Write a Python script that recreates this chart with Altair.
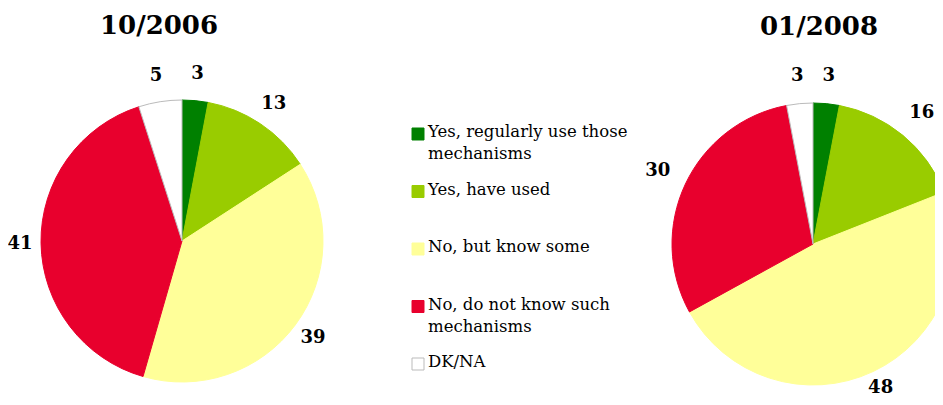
import altair as alt
import pandas as pd

categories = [
    "Yes, regularly use those mechanisms",
    "Yes, have used",
    "No, but know some",
    "No, do not know such mechanisms",
    "DK/NA",
]
legend_lines = [
    "Yes, regularly use those|mechanisms",
    "Yes, have used",
    "No, but know some",
    "No, do not know such|mechanisms",
    "DK/NA",
]
fill_colors = ["#008000", "#99CC00", "#FFFF99", "#E8002D", "#FFFFFF"]
stroke_colors = ["#008000", "#99CC00", "#FFFF99", "#E8002D", "#BBBBBB"]

surveys = ["10/2006", "01/2008"]
values_2006 = [3, 13, 39, 41, 5]
values_2008 = [3, 16, 48, 30, 3]

rows = []
for s, vals in zip(surveys, [values_2006, values_2008]):
    for i, (c, v) in enumerate(zip(categories, vals)):
        rows.append({"survey": s, "category": c, "value": v, "idx": i})
df = pd.DataFrame(rows)

legend_df = pd.DataFrame({"category": categories, "label": legend_lines})

fill_scale = alt.Scale(domain=categories, range=fill_colors)
stroke_scale = alt.Scale(domain=categories, range=stroke_colors)

SERIF = "DejaVu Serif"

def pie(survey, cx, cy, tx, ty, r_expr):
    base = alt.Chart(df).transform_filter(alt.datum.survey == survey)
    arcs = base.mark_arc(outerRadius=141, strokeWidth=1).encode(
        theta=alt.Theta("value:Q", stack=True),
        order=alt.Order("idx:Q"),
        fill=alt.Fill("category:N", scale=fill_scale, legend=None),
        stroke=alt.Stroke("category:N", scale=stroke_scale, legend=None),
        x=alt.value(cx),
        y=alt.value(cy),
    )
    labels = (
        base.transform_joinaggregate(total="sum(value)")
        .transform_window(cum="sum(value)", sort=[alt.SortField("idx")])
        .transform_calculate(mid="(datum.cum - datum.value / 2) / datum.total * 2 * PI")
        .transform_calculate(lr=r_expr)
        .mark_text(font=SERIF, fontSize=18, fontWeight="bold", color="black")
        .encode(
            theta=alt.Theta("mid:Q", scale=None, stack=False),
            radius=alt.Radius("lr:Q", scale=None, stack=False),
            text=alt.Text("value:Q"),
            x=alt.value(cx),
            y=alt.value(cy),
        )
    )
    title = alt.Chart(pd.DataFrame({"t": [survey]})).mark_text(
        font=SERIF, fontSize=26, fontWeight="bold", color="black",
        align="center", baseline="alphabetic"
    ).encode(text="t:N", x=alt.value(tx), y=alt.value(ty))
    return alt.layer(arcs, labels, title)

pie1 = pie("10/2006", 174, 233, 151, 26, "168 - 6 * abs(sin(datum.mid))")
pie2 = pie("01/2008", 805, 236, 811, 27,
           "168 + 4 * abs(sin(datum.mid)) - 12 * max(0, -cos(datum.mid))")

ypos = alt.Y(
    "category:N",
    sort=categories,
    scale=alt.Scale(domain=categories, range=[126, 356], type="point", padding=0),
    axis=None,
)
leg_sq = alt.Chart(legend_df).mark_square(size=144, strokeWidth=1, opacity=1).encode(
    x=alt.value(410),
    y=ypos,
    fill=alt.Fill("category:N", scale=fill_scale, legend=None),
    stroke=alt.Stroke("category:N", scale=stroke_scale, legend=None),
)
leg_txt = alt.Chart(legend_df).mark_text(
    font=SERIF, fontSize=16.5, align="left", baseline="top", dy=-10,
    lineBreak="|", lineHeight=22, color="black"
).encode(x=alt.value(420), y=ypos, text="label:N")

chart = (
    alt.layer(pie1, pie2, leg_sq, leg_txt)
    .resolve_scale(theta="independent")
    .properties(width=927, height=389, autosize=alt.AutoSizeParams(type="none"), padding=0)
    .configure_view(stroke=None)
)

chart.save("out.html", embed_options={"renderer": "svg", "actions": False})
